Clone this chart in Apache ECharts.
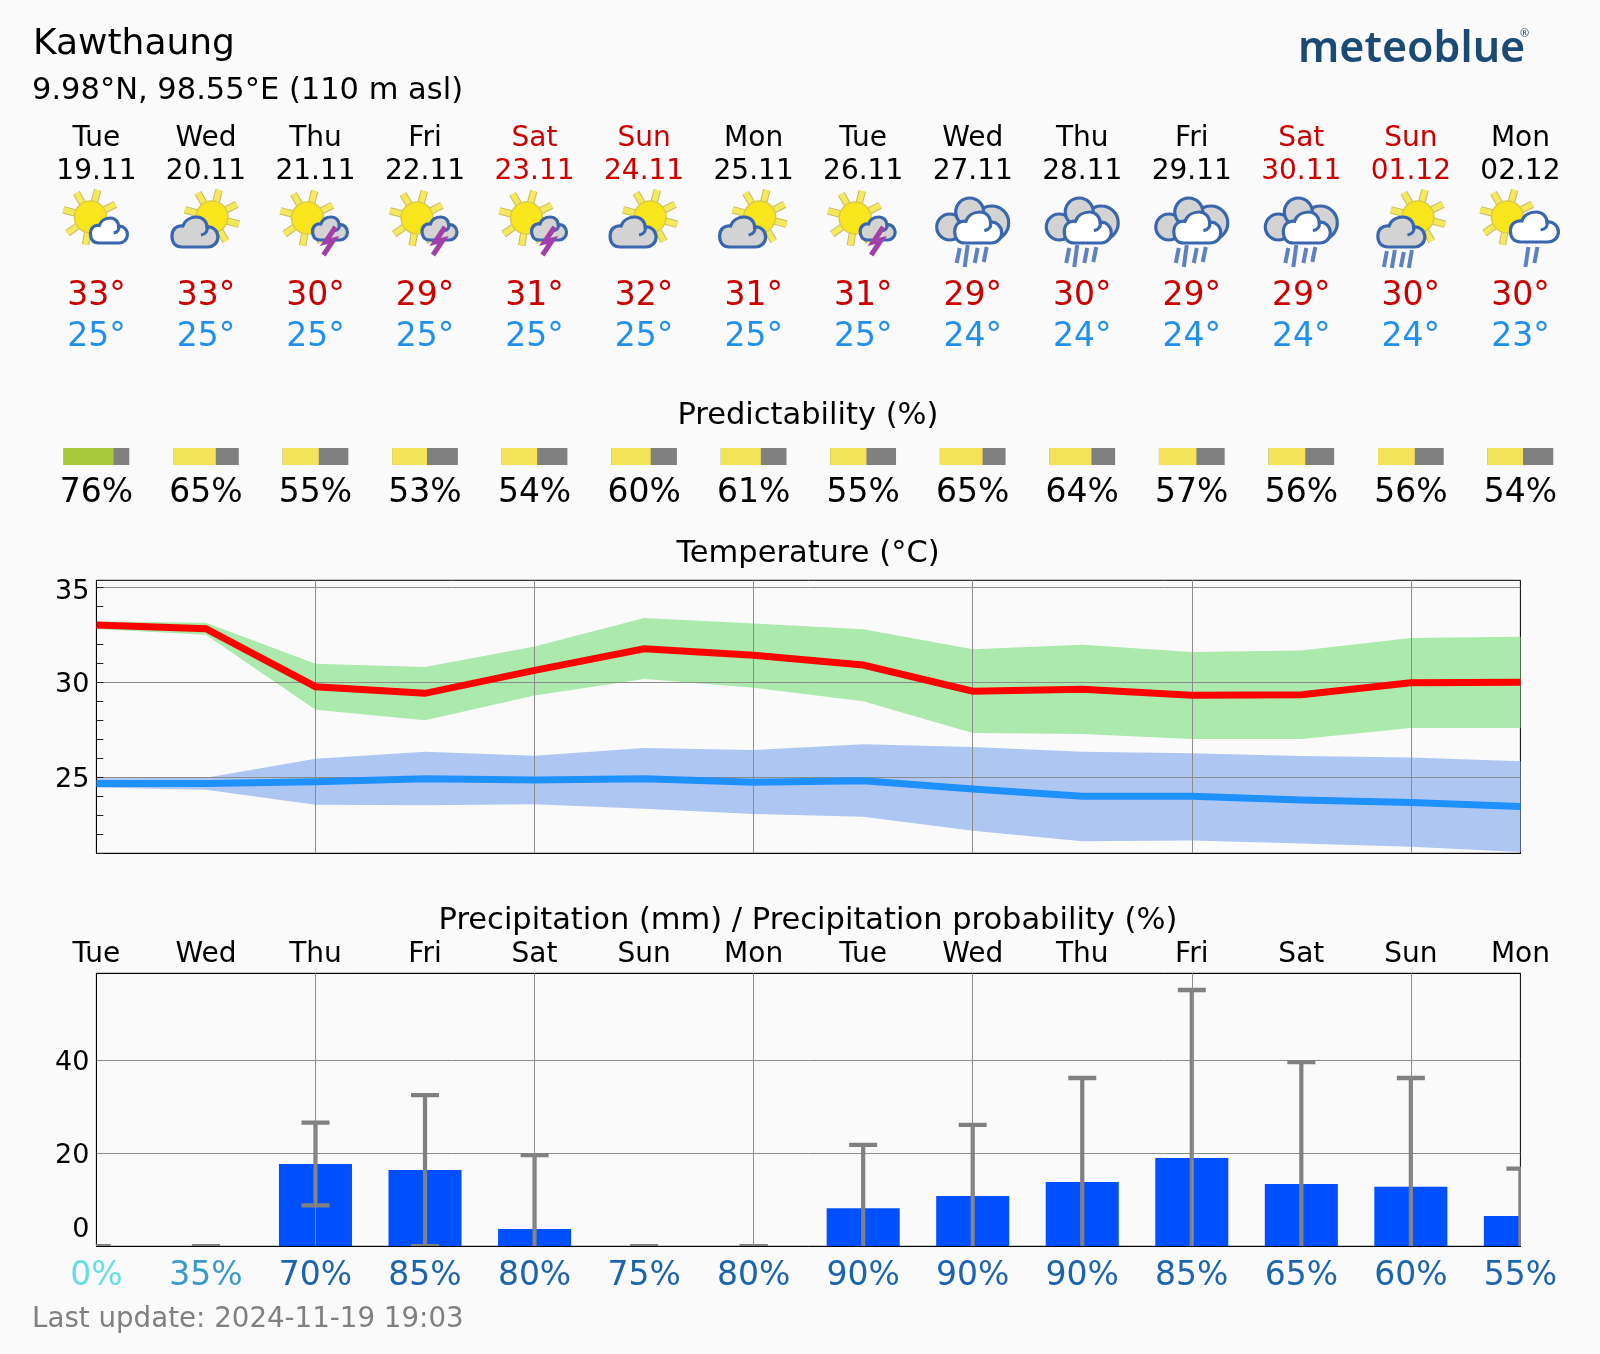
<!DOCTYPE html>
<html>
<head>
<meta charset="utf-8">
<style>
  html, body { margin: 0; padding: 0; background: #fafafa; }
  #chart { width: 1600px; height: 1354px; }
</style>
<script src="https://cdn.jsdelivr.net/npm/echarts@6/dist/echarts.min.js"></script>
</head>
<body>
<div id="chart"></div>
<script>
var days = ['Tue','Wed','Thu','Fri','Sat','Sun','Mon','Tue','Wed','Thu','Fri','Sat','Sun','Mon'];
var dates = ['19.11','20.11','21.11','22.11','23.11','24.11','25.11','26.11','27.11','28.11','29.11','30.11','01.12','02.12'];
var iconTypes = ['sunWhite','sunGray','thunder','thunder','thunder','sunGray','sunGray','thunder','rain','rain','rain','rain','sunGrayRain','sunWhiteRain'];
var tempHighLabels = [33,33,30,29,31,32,31,31,29,30,29,29,30,30];
var tempLowLabels = [25,25,25,25,25,25,25,25,24,24,24,24,24,23];
var predictability = [76,65,55,53,54,60,61,55,65,64,57,56,56,54];

var maxTemp = [33.02,32.82,29.77,29.42,30.63,31.77,31.42,30.91,29.53,29.63,29.32,29.35,29.98,30.0];
var maxTempUpper = [33.2,33.14,30.98,30.81,31.88,33.39,33.09,32.79,31.74,31.98,31.6,31.67,32.33,32.4];
var maxTempLower = [32.8,32.5,28.56,28.0,29.3,30.18,29.72,29.0,27.33,27.28,27.02,27.02,27.6,27.6];
var minTemp = [24.68,24.68,24.77,24.93,24.86,24.93,24.74,24.82,24.39,24.0,24.0,23.81,23.68,23.46];
var minTempUpper = [24.95,24.98,25.98,26.35,26.14,26.54,26.44,26.74,26.6,26.35,26.26,26.12,26.04,25.84];
var minTempLower = [24.47,24.35,23.56,23.53,23.58,23.35,23.07,22.93,22.19,21.63,21.68,21.51,21.35,21.07];

var precip = [0,0,17.7,16.4,3.7,0,0,8.2,10.8,13.8,19.0,13.4,12.8,6.5];
var precipHigh = [0,0,26.6,32.5,19.6,0,0,21.8,26.1,36.2,55.1,39.6,36.2,16.7];
// null: no lower cap visible in the picture
var precipLow = [0,0,8.8,0,null,0,0,null,null,null,null,null,null,null];
var precipProb = [0,35,70,85,80,75,80,90,90,90,85,65,60,55];

var FONT = '"DejaVu Sans"';
var BLACK = '#000';
var RED_TEXT = '#cc0000';
var BLUE_TEXT = '#2090f0';
var OUTLINE = '#3a66ad';

function isWeekend(i) { return days[i] === 'Sat' || days[i] === 'Sun'; }

function probColor(v) {
  if (v === 0) return '#66dfe2';
  if (v < 50) return '#3a9acb';
  return '#1c64ae';
}

// one row of centred text over the 14 day columns
function textRow(texts, y, size, colorOf) {
  return {
    type: 'custom', xAxisIndex: 0, yAxisIndex: 0, silent: true,
    data: texts.map(function (t, i) { return [i, y]; }),
    renderItem: function (params, api) {
      var p = api.coord([api.value(0), api.value(1)]);
      return {
        type: 'text', x: p[0], y: p[1],
        style: {
          text: String(texts[params.dataIndex]), fontFamily: FONT, fontSize: size,
          fill: colorOf(params.dataIndex), align: 'center', verticalAlign: 'middle'
        }
      };
    }
  };
}

function sun(dx, y) {
  var out = [];
  [-120,-75,-27,15,60,100,145,195].forEach(function (deg) {
    var a = deg * Math.PI / 180;
    var shape = { x1: dx + Math.cos(a) * 14, y1: y + Math.sin(a) * 14, x2: dx + Math.cos(a) * 28, y2: y + Math.sin(a) * 28 };
    out.push({ type: 'line', shape: shape, style: { stroke: '#c8bb62', lineWidth: 7.5 } });
    out.push({ type: 'line', shape: shape, style: { stroke: '#f4e95c', lineWidth: 5.5 } });
  });
  out.push({ type: 'circle', shape: { cx: dx, cy: y, r: 16 }, style: { fill: '#f9e51c', stroke: '#dcc94e', lineWidth: 1.5 } });
  return out;
}

function cloud(x1, x2, y1, y2, fill) {
  return [{
    type: 'path',
    shape: {
      pathData: 'M10 30C3 30 0 25 0 19C0 12 5 8 11 9C13 3 19 0 25 0C31 0 35 5 35 10C41 9 46 14 46 20C46 26 41 30 36 30ZM35 10C36 14 34 17 29 18',
      layout: 'cover', x: x1, y: y1, width: x2 - x1, height: y2 - y1
    },
    style: { fill: fill, stroke: OUTLINE, lineWidth: 3.2 }
  }];
}

function rain(list) {
  return list.map(function (r) {
    return { type: 'line', shape: { x1: r[0] + 2, y1: r[1], x2: r[0] - 1, y2: r[2] }, style: { stroke: '#5d82bf', lineWidth: 4 } };
  });
}

function bolt(dx, y) {
  return [{
    type: 'polyline',
    shape: { points: [[dx + 13, y - 14], [dx + 3, y + 1], [dx + 11, y - 1], [dx + 1, y + 14]] },
    style: { stroke: '#a23fa8', lineWidth: 5, fill: null }
  }];
}

function backLobes() {
  return [[-23, 227, 13], [19, 223, 17], [-3, 212, 14]].map(function (c) {
    return { type: 'circle', shape: { cx: c[0], cy: c[1] , r: c[2] }, style: { fill: '#d3d3d3', stroke: OUTLINE, lineWidth: 3.2 } };
  });
}

// icon parts relative to the day column, y measured on the header axis
function iconParts(type) {
  if (type === 'sunWhite') return sun(-6, 217).concat(cloud(-6, 31, 218, 243, '#fff'));
  if (type === 'sunGray') return sun(6, 217).concat(cloud(-34, 12, 217, 247, '#d3d3d3'));
  if (type === 'thunder') return sun(-8, 218).concat(cloud(-3, 32, 217, 240, '#d3d3d3'), bolt(7, 241));
  if (type === 'rain') {
    return backLobes().concat(cloud(-18, 29, 212, 243, '#fff'),
      rain([[-15, 248, 263], [-7, 245, 267], [3, 248, 263], [12, 247, 262]]));
  }
  if (type === 'sunGrayRain') {
    return sun(7, 217).concat(cloud(-33, 14, 217, 247, '#d3d3d3'),
      rain([[-26, 251, 267], [-18, 250, 268], [-9, 252, 267], [-1, 250, 268]]));
  }
  return sun(-13, 217).concat(cloud(-10, 38, 212, 242, '#fff'), rain([[6, 247, 267], [15, 247, 263]]));
}

function iconSeries() {
  return {
    type: 'custom', xAxisIndex: 0, yAxisIndex: 0, silent: true,
    data: iconTypes.map(function (t, i) { return [i, 0]; }),
    renderItem: function (params, api) {
      var p = api.coord([api.value(0), 0]);
      return { type: 'group', x: p[0], y: p[1], children: iconParts(iconTypes[params.dataIndex]) };
    }
  };
}

function predictabilitySeries() {
  return {
    type: 'custom', xAxisIndex: 0, yAxisIndex: 0, silent: true,
    data: predictability.map(function (v, i) { return [i, 456.5, v]; }),
    renderItem: function (params, api) {
      var p = api.coord([api.value(0), api.value(1)]);
      var w = api.size([1, 0])[0] * 0.6;
      var h = 17;
      var v = api.value(2);
      var x0 = p[0] - w / 2;
      return {
        type: 'group',
        children: [
          { type: 'rect', shape: { x: x0, y: p[1] - h / 2, width: w, height: h }, style: { fill: '#808080' } },
          { type: 'rect', shape: { x: x0, y: p[1] - h / 2, width: w * v / 100, height: h }, style: { fill: v >= 70 ? '#a6ca3b' : '#f3e358' } }
        ]
      };
    }
  };
}

function bandBase(name, values) {
  return {
    name: name, type: 'line', xAxisIndex: 1, yAxisIndex: 1, stack: name, data: values,
    symbol: 'none', lineStyle: { width: 0 }, silent: true, z: 1
  };
}

function bandFill(name, upper, lower, color) {
  return {
    name: name + ' range', type: 'line', xAxisIndex: 1, yAxisIndex: 1, stack: name,
    data: upper.map(function (v, i) { return +(v - lower[i]).toFixed(2); }),
    symbol: 'none', lineStyle: { width: 0 }, areaStyle: { color: color, opacity: 1 }, silent: true, z: 1
  };
}

function tempLine(name, values, color) {
  return {
    name: name, type: 'line', xAxisIndex: 1, yAxisIndex: 1, data: values,
    symbol: 'none', lineStyle: { color: color, width: 7, join: 'miter' }, silent: true, z: 3
  };
}

// drawn as custom rects: a 'bar' on this axis would not clip at the plot edge
function precipBars() {
  return {
    name: 'Precipitation', type: 'custom', xAxisIndex: 2, yAxisIndex: 3, clip: true, silent: true, z: 2,
    data: precip.map(function (v, i) { return [i, v]; }),
    renderItem: function (params, api) {
      var top = api.coord([api.value(0), api.value(1)]);
      var base = api.coord([api.value(0), 0]);
      var w = api.size([1, 0])[0] * 2 / 3;
      return {
        type: 'rect',
        shape: { x: top[0] - w / 2, y: top[1], width: w, height: base[1] - top[1] },
        style: { fill: '#0050ff' }
      };
    }
  };
}

function errorBars() {
  return {
    type: 'custom', xAxisIndex: 2, yAxisIndex: 3, clip: true, silent: true, z: 3,
    data: precipHigh.map(function (v, i) { return [i, v]; }),
    renderItem: function (params, api) {
      var i = params.dataIndex;
      var hi = api.coord([i, precipHigh[i]]);
      var low = precipLow[i];
      var lo = api.coord([i, low === null ? 0 : low]);
      var style = { stroke: '#808080', lineWidth: 4.2 };
      var capStyle = { stroke: '#808080', lineWidth: 4.4 };
      var kids = [];
      if (hi[1] !== lo[1]) kids.push({ type: 'line', shape: { x1: hi[0], y1: hi[1], x2: hi[0], y2: lo[1] }, style: style });
      kids.push({ type: 'line', shape: { x1: hi[0] - 14, y1: hi[1], x2: hi[0] + 14, y2: hi[1] }, style: capStyle });
      if (low !== null) kids.push({ type: 'line', shape: { x1: lo[0] - 14, y1: lo[1], x2: lo[0] + 14, y2: lo[1] }, style: capStyle });
      return { type: 'group', children: kids };
    }
  };
}

function evenLines(index) { return index > 0 && index % 2 === 0; }

var GRID_LINE = { color: '#8c8c8c', width: 1 };
var AXIS_LINE = { color: BLACK, width: 1 };
var PLOT_LEFT = 96.4, PLOT_WIDTH = 1424;

function textTitle(text, left, top, size, color, family, weight) {
  return { text: text, left: left, top: top, padding: 0, textStyle: { fontFamily: family || FONT, fontSize: size, fontWeight: weight || 'normal', color: color || BLACK } };
}

function plotTitle(text, y) {
  return { text: text, left: 808, top: y, padding: 0, textAlign: 'center', textStyle: { fontFamily: FONT, fontSize: 30.5, fontWeight: 'normal', color: BLACK } };
}

// rich styles nudge the y labels down the way the reference has them
var yLabelRich = {
  top: { fontFamily: FONT, fontSize: 27, color: BLACK, padding: [10, 0, 0, 0] },
  mid: { fontFamily: FONT, fontSize: 27, color: BLACK, padding: [5, 0, 0, 0] },
  zero: { fontFamily: FONT, fontSize: 27, color: BLACK, padding: [0, 0, 32, 0] }
};

var myChart = echarts.init(document.getElementById('chart'));
myChart.setOption({
  animation: false,
  backgroundColor: '#fafafa',
  title: [
    textTitle('Kawthaung', 33, 27, 36),
    textTitle('9.98°N, 98.55°E (110 m asl)', 32, 76, 30.5),
    textTitle('meteoblue', 1298, 28, 43, '#1b4b74', '"Noto Sans"', 600),
    textTitle('®', 1520, 28, 11, '#1b4b74', '"Noto Sans"'),
    plotTitle('Predictability (%)', 401),
    plotTitle('Temperature (°C)', 539),
    plotTitle('Precipitation (mm) / Precipitation probability (%)', 906),
    textTitle('Last update: 2024-11-19 19:03', 32, 1306, 27.7, '#808080')
  ],
  grid: [
    { left: PLOT_LEFT, width: PLOT_WIDTH, top: 0, height: 1354 },
    { left: PLOT_LEFT, width: PLOT_WIDTH, top: 580.3, height: 273, show: true, borderColor: BLACK, borderWidth: 1 },
    { left: PLOT_LEFT, width: PLOT_WIDTH, top: 973.3, height: 273, show: true, borderColor: BLACK, borderWidth: 1 }
  ],
  xAxis: [
    { type: 'category', gridIndex: 0, data: days, boundaryGap: false, show: false },
    {
      type: 'category', gridIndex: 1, data: days, boundaryGap: false, z: 1.5,
      axisLine: { show: true, lineStyle: AXIS_LINE }, axisTick: { show: false }, axisLabel: { show: false },
      splitLine: { show: true, interval: evenLines, lineStyle: GRID_LINE }
    },
    {
      type: 'category', gridIndex: 2, data: precipProb, boundaryGap: false, z: 4,
      axisLine: { show: true, onZero: false, lineStyle: AXIS_LINE }, axisTick: { show: false },
      axisLabel: {
        interval: 0, margin: 14, fontFamily: FONT, fontSize: 33,
        formatter: function (v) { return v + '%'; },
        color: function (v) { return probColor(Number(v)); }
      },
      splitLine: { show: true, interval: evenLines, lineStyle: GRID_LINE }
    },
    {
      type: 'category', gridIndex: 2, position: 'top', data: days, boundaryGap: false,
      axisLine: { show: true, onZero: false, lineStyle: AXIS_LINE }, axisTick: { show: false },
      axisLabel: { interval: 0, margin: 5, fontFamily: FONT, fontSize: 28, color: BLACK }
    }
  ],
  yAxis: [
    { type: 'value', gridIndex: 0, inverse: true, min: 0, max: 1354, show: false },
    {
      type: 'value', gridIndex: 1, min: 21, max: 35.37, z: 1.5,
      axisLine: { show: false },
      axisTick: { show: false, customValues: [25, 30, 35] },
      axisLabel: {
        customValues: [25, 30, 35], margin: 7, fontFamily: FONT, fontSize: 27, color: BLACK,
        formatter: function (v) { return (v === 35 ? '{top|' : '{mid|') + v + '}'; },
        rich: yLabelRich
      },
      splitLine: { show: true, lineStyle: GRID_LINE }
    },
    {
      // minor ticks only, one per degree
      type: 'value', gridIndex: 1, min: 21, max: 35.37, interval: 1, position: 'left', z: 1.5,
      axisLine: { show: true, lineStyle: AXIS_LINE },
      axisTick: { show: true, inside: true, length: 7, lineStyle: { color: '#222', width: 1 } },
      axisLabel: { show: false }, splitLine: { show: false }
    },
    {
      type: 'value', gridIndex: 2, min: 0, max: 58.7,
      axisLine: { show: true, lineStyle: AXIS_LINE },
      axisTick: { show: false, customValues: [0, 20, 40] },
      axisLabel: {
        customValues: [0, 20, 40], margin: 7, fontFamily: FONT, fontSize: 27, color: BLACK,
        formatter: function (v) { return (v === 0 ? '{zero|' : '{mid|') + v + '}'; },
        rich: yLabelRich
      },
      splitLine: { show: true, lineStyle: GRID_LINE }
    }
  ],
  series: [
    textRow(days, 138.5, 28, function (i) { return isWeekend(i) ? RED_TEXT : BLACK; }),
    textRow(dates, 172, 28, function (i) { return isWeekend(i) ? RED_TEXT : BLACK; }),
    iconSeries(),
    textRow(tempHighLabels.map(function (v) { return v + '°'; }), 296, 33, function () { return RED_TEXT; }),
    textRow(tempLowLabels.map(function (v) { return v + '°'; }), 337, 33, function () { return BLUE_TEXT; }),
    predictabilitySeries(),
    textRow(predictability.map(function (v) { return v + '%'; }), 493, 33, function () { return BLACK; }),

    bandBase('maxBand', maxTempLower),
    bandFill('maxBand', maxTempUpper, maxTempLower, '#ace9ac'),
    bandBase('minBand', minTempLower),
    bandFill('minBand', minTempUpper, minTempLower, '#aec7f2'),
    tempLine('Max temperature', maxTemp, '#ff0000'),
    tempLine('Min temperature', minTemp, '#1e90ff'),

    precipBars(),
    errorBars()
  ]
});
</script>
</body>
</html>
